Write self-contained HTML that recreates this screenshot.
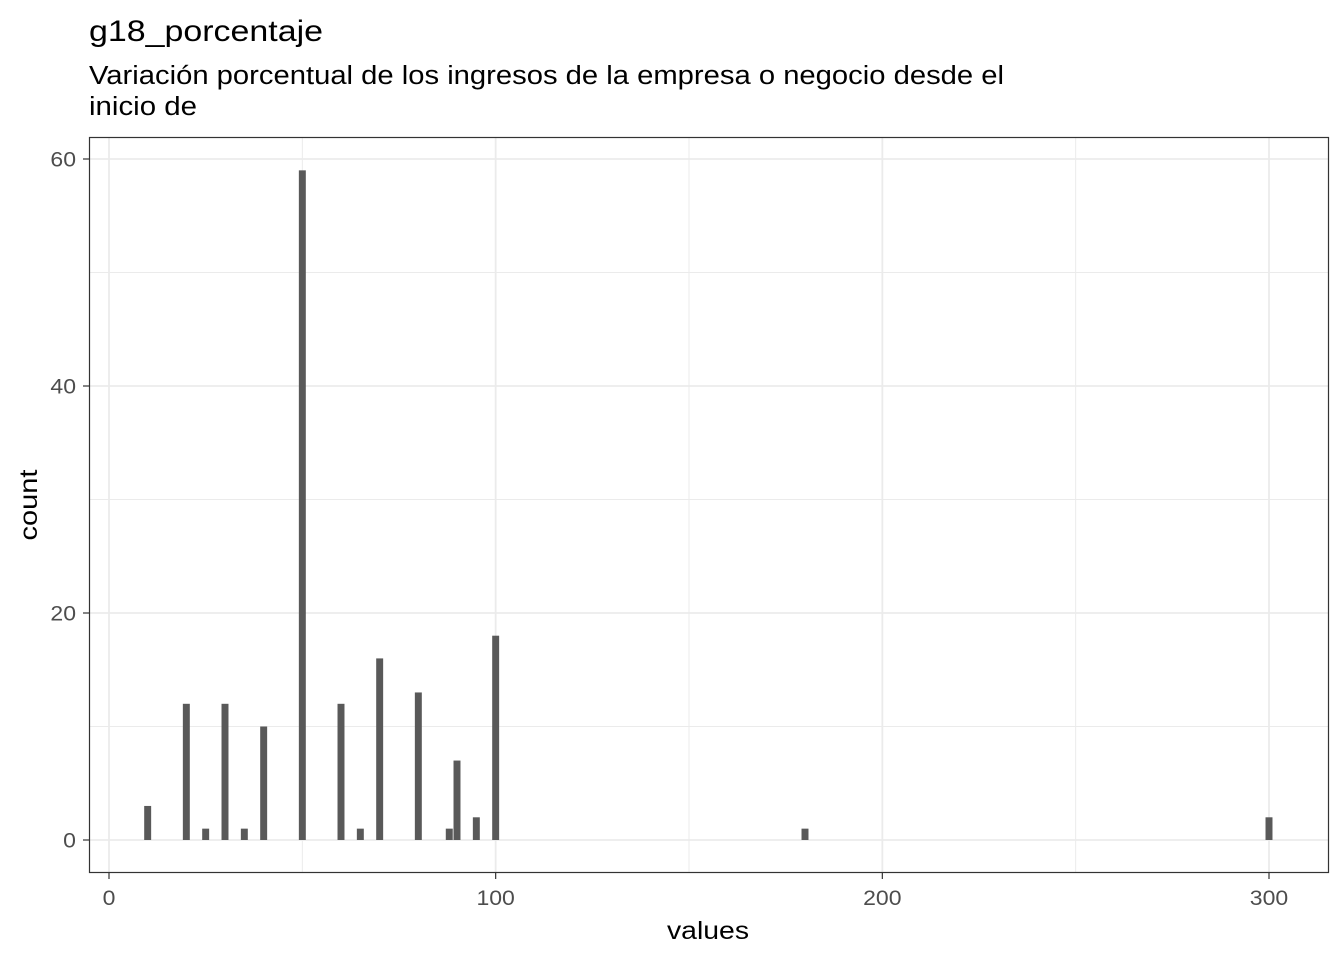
<!DOCTYPE html>
<html><head><meta charset="utf-8"><style>
body{margin:0;background:#fff;font-family:"Liberation Sans",Arial,sans-serif}
</style></head><body>
<svg id="chart" width="1344" height="960" xmlns="http://www.w3.org/2000/svg" style="font-family:'Liberation Sans',Arial,sans-serif">
<text x="89" y="41" style="font-size:30px" textLength="234" lengthAdjust="spacingAndGlyphs" fill="#000">g18_porcentaje</text>
<text x="89" y="84" style="font-size:25.5px" textLength="915" lengthAdjust="spacingAndGlyphs" fill="#000">Variación porcentual de los ingresos de la empresa o negocio desde el</text>
<text x="89" y="115" style="font-size:25.5px" textLength="108" lengthAdjust="spacingAndGlyphs" fill="#000">inicio de</text>
<rect x="89.5" y="137.5" width="1239" height="735" fill="#fff"/>
<g id="grid"></g>
<g id="bars"></g>
<rect x="89.5" y="137.5" width="1239" height="735" fill="none" stroke="#333" stroke-width="1.2"/>
<g id="axes"></g>
<text x="708" y="939" style="font-size:25px" textLength="82" lengthAdjust="spacingAndGlyphs" text-anchor="middle" fill="#000">values</text>
<text transform="translate(37,505) rotate(-90)" style="font-size:25px" textLength="71" lengthAdjust="spacingAndGlyphs" text-anchor="middle" fill="#000">count</text>
</svg>
<script>
const binValues=[10,20,25,30,35,40,50,60,65,70,80,88,90,95,100,180,300];
const counts=[3,12,1,12,1,10,59,12,1,16,13,1,7,2,18,1,2];
const xTicks=[0,100,200,300];
const yTicks=[0,20,40,60];
const binWidth=1.8;
const NS="http://www.w3.org/2000/svg";
const xs=v=>109+v*(1269-109)/300;
const ys=v=>840-v*(840-159)/60;
function mk(tag,attrs,parent){const e=document.createElementNS(NS,tag);for(const k in attrs)e.setAttribute(k,attrs[k]);parent.appendChild(e);return e;}
const grid=document.getElementById('grid'),bars=document.getElementById('bars'),axes=document.getElementById('axes');
const lw=t=>String(t).length*12.8;
for(let i=0;i<xTicks.length-1;i++){const m=(xTicks[i]+xTicks[i+1])/2;const l=mk('line',{x1:xs(m),x2:xs(m),y1:138,y2:872,stroke:'#ebebeb','stroke-width':1},grid);}
for(let i=0;i<yTicks.length-1;i++){const m=(yTicks[i]+yTicks[i+1])/2;const l=mk('line',{x1:90,x2:1328,y1:ys(m),y2:ys(m),stroke:'#ebebeb','stroke-width':1},grid);}
xTicks.forEach(t=>{const l=mk('line',{x1:xs(t),x2:xs(t),y1:138,y2:872,stroke:'#ebebeb','stroke-width':1.8},grid);
const k=mk('line',{x1:xs(t),x2:xs(t),y1:873,y2:879,stroke:'#333','stroke-width':1.2},axes);
const tx=mk('text',{x:xs(t),y:905,style:'font-size:21px','text-anchor':'middle',textLength:lw(t),lengthAdjust:'spacingAndGlyphs',fill:'#4d4d4d'},axes);tx.textContent=t;});
yTicks.forEach(t=>{const l=mk('line',{x1:90,x2:1328,y1:ys(t),y2:ys(t),stroke:'#ebebeb','stroke-width':1.8},grid);
const k=mk('line',{x1:83,x2:89,y1:ys(t),y2:ys(t),stroke:'#333','stroke-width':1.2},axes);
const tx=mk('text',{x:76,y:ys(t)+7.5,style:'font-size:21px','text-anchor':'end',textLength:lw(t),lengthAdjust:'spacingAndGlyphs',fill:'#4d4d4d'},axes);tx.textContent=t;});
binValues.forEach((v,i)=>{const x0=xs(v-binWidth/2),x1=xs(v+binWidth/2);const r=mk('rect',{x:x0,y:ys(counts[i]),width:x1-x0,height:ys(0)-ys(counts[i]),fill:'#595959'},bars);});
</script>
</body></html>
